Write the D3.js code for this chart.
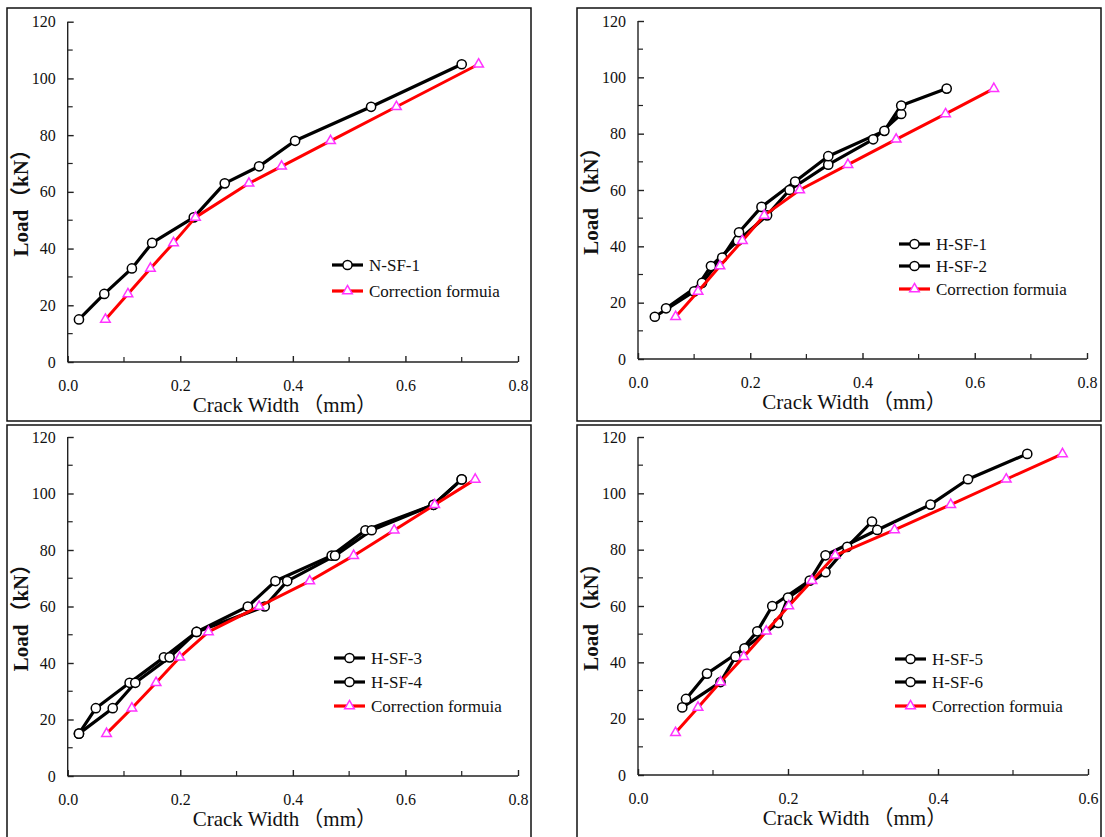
<!DOCTYPE html>
<html>
<head>
<meta charset="utf-8">
<script src="https://cdn.jsdelivr.net/npm/d3@7"></script>
<style>
  html, body { margin: 0; padding: 0; background: #fff; }
  svg { display: block; }
  svg text { font-family: "Liberation Serif", "Times New Roman", Tinos, "DejaVu Serif", "Noto Serif", serif, "Noto Sans CJK SC"; fill: #111; }
</style>
</head>
<body>
<svg id="chart" width="1105" height="837"></svg>
<script>
// ---------------- DATA ----------------
const yTickValues = [0, 20, 40, 60, 80, 100, 120];
const xTickValues08 = [0.0, 0.2, 0.4, 0.6, 0.8];
const xTickValues06 = [0.0, 0.2, 0.4, 0.6];
const xAxisTitleMain = "Crack Width";
const xAxisTitleUnit = "（mm）";
const yAxisTitleMain = "Load";
const yAxisTitleUnit = "（kN）";
const correctionName = "Correction formuia";

// Panel 1: N-SF-1
const nsf1Width = [0.02, 0.065, 0.114, 0.150, 0.224, 0.279, 0.340, 0.404, 0.539, 0.700];
const nsf1Load  = [15, 24, 33, 42, 51, 63, 69, 78, 90, 105];
const corr1Width = [0.067, 0.107, 0.147, 0.188, 0.227, 0.322, 0.380, 0.467, 0.584, 0.730];
const corr1Load  = [15, 24, 33, 42, 51, 63, 69, 78, 90, 105];

// Panel 2: H-SF-1, H-SF-2
const hsf1Width = [0.030, 0.100, 0.130, 0.178, 0.230, 0.270, 0.339, 0.419, 0.469];
const hsf1Load  = [15, 24, 33, 42, 51, 60, 69, 78, 87];
const hsf2Width = [0.050, 0.114, 0.150, 0.180, 0.220, 0.280, 0.339, 0.439, 0.469, 0.550];
const hsf2Load  = [18, 27, 36, 45, 54, 63, 72, 81, 90, 96];
const corr2Width = [0.067, 0.107, 0.146, 0.186, 0.225, 0.288, 0.374, 0.460, 0.548, 0.634];
const corr2Load  = [15, 24, 33, 42, 51, 60, 69, 78, 87, 96];

// Panel 3: H-SF-3, H-SF-4
const hsf3Width = [0.020, 0.050, 0.110, 0.171, 0.229, 0.320, 0.369, 0.469, 0.529, 0.650, 0.700];
const hsf3Load  = [15, 24, 33, 42, 51, 60, 69, 78, 87, 96, 105];
const hsf4Width = [0.020, 0.080, 0.120, 0.181, 0.229, 0.350, 0.390, 0.475, 0.540, 0.650, 0.700];
const hsf4Load  = [15, 24, 33, 42, 51, 60, 69, 78, 87, 96, 105];
const corr3Width = [0.069, 0.114, 0.157, 0.199, 0.250, 0.340, 0.430, 0.508, 0.580, 0.652, 0.724];
const corr3Load  = [15, 24, 33, 42, 51, 60, 69, 78, 87, 96, 105];

// Panel 4: H-SF-5, H-SF-6
const hsf5Width = [0.059, 0.110, 0.130, 0.159, 0.179, 0.229, 0.250, 0.319, 0.390, 0.440, 0.519];
const hsf5Load  = [24, 33, 42, 51, 60, 69, 78, 87, 96, 105, 114];
const hsf6Width = [0.064, 0.092, 0.142, 0.187, 0.200, 0.250, 0.279, 0.312];
const hsf6Load  = [27, 36, 45, 54, 63, 72, 81, 90];
const corr4Width = [0.050, 0.080, 0.110, 0.141, 0.171, 0.201, 0.232, 0.263, 0.342, 0.417, 0.491, 0.566];
const corr4Load  = [15, 24, 33, 42, 51, 60, 69, 78, 87, 96, 105, 114];

const zip = (w, l) => w.map((d, i) => ({ x: d, y: l[i] }));

// ---------------- LAYOUT ----------------
const FONT = '"Liberation Serif", "Times New Roman", Tinos, "DejaVu Serif", "Noto Serif", serif, "Noto Sans CJK SC"';
const panels = [
  { border: [7, 8, 531, 421], plot: [67.7, 518, 21.7, 362], xMax: 0.8, xTicks: xTickValues08,
    legend: { x: 332, ys: [265, 291] },
    series: [{ name: "N-SF-1", data: zip(nsf1Width, nsf1Load) }],
    corr: zip(corr1Width, corr1Load) },
  { border: [577, 8, 1101, 421], plot: [638, 1087, 21, 359], xMax: 0.8, xTicks: xTickValues08,
    legend: { x: 899, ys: [244, 266, 289] },
    series: [{ name: "H-SF-1", data: zip(hsf1Width, hsf1Load) },
             { name: "H-SF-2", data: zip(hsf2Width, hsf2Load) }],
    corr: zip(corr2Width, corr2Load) },
  { border: [7, 425, 531, 842], plot: [67.7, 518, 437, 776], xMax: 0.8, xTicks: xTickValues08,
    legend: { x: 334, ys: [658, 682, 706] },
    series: [{ name: "H-SF-3", data: zip(hsf3Width, hsf3Load) },
             { name: "H-SF-4", data: zip(hsf4Width, hsf4Load) }],
    corr: zip(corr3Width, corr3Load) },
  { border: [577, 425, 1101, 842], plot: [638, 1088, 437, 775], xMax: 0.6, xTicks: xTickValues06,
    legend: { x: 895, ys: [659, 682, 706] },
    series: [{ name: "H-SF-5", data: zip(hsf5Width, hsf5Load) },
             { name: "H-SF-6", data: zip(hsf6Width, hsf6Load) }],
    corr: zip(corr4Width, corr4Load) }
];

const svg = d3.select("#chart");
const triangle = d3.symbol().type(d3.symbolTriangle).size(40);
const MAGENTA = "#ff33ff";

panels.forEach(p => {
  const [bx0, by0, bx1, by1] = p.border;
  svg.append("rect").attr("x", bx0).attr("y", by0).attr("width", bx1 - bx0).attr("height", by1 - by0)
    .attr("fill", "none").attr("stroke", "#111").attr("stroke-width", 1.5);

  const [pl, pr, pt, pb] = p.plot;
  const x = d3.scaleLinear().domain([0, p.xMax]).range([pl, pr]);
  const y = d3.scaleLinear().domain([0, 120]).range([pb, pt]);
  const g = svg.append("g").attr("font-family", FONT);

  // Y axis
  const yAx = g.append("g").attr("transform", `translate(${pl},0)`)
    .call(d3.axisLeft(y).tickValues(yTickValues).tickSize(-6).tickPadding(12).tickFormat(d3.format("d")));
  yAx.attr("font-family", FONT).attr("font-size", 16);
  yAx.select(".domain").attr("stroke", "#222").attr("stroke-width", 1.4).attr("d", `M0,${pt}V${pb}`);
  yAx.selectAll(".tick line").attr("stroke", "#222").attr("stroke-width", 1.4);
  yAx.selectAll(".tick text").style("font-family", FONT).style("font-size", "16px").attr("fill", "#111");
  d3.range(10, 120, 20).forEach(v => g.append("line").attr("x1", pl).attr("x2", pl + 5).attr("y1", y(v)).attr("y2", y(v))
    .attr("stroke", "#222").attr("stroke-width", 1.2));

  // X axis
  const xAx = g.append("g").attr("transform", `translate(0,${pb})`)
    .call(d3.axisBottom(x).tickValues(p.xTicks).tickSize(-6).tickPadding(18).tickFormat(d3.format(".1f")));
  xAx.attr("font-family", FONT).attr("font-size", 16);
  xAx.select(".domain").attr("stroke", "#222").attr("stroke-width", 1.4).attr("d", `M${pl},0H${pr}`);
  xAx.selectAll(".tick line").attr("stroke", "#222").attr("stroke-width", 1.4);
  xAx.selectAll(".tick text").style("font-family", FONT).style("font-size", "16px").attr("fill", "#111");
  d3.range(0.1, p.xMax, 0.2).forEach(v => g.append("line").attr("x1", x(v)).attr("x2", x(v))
    .attr("y1", pb).attr("y2", pb - 5).attr("stroke", "#222").attr("stroke-width", 1.2));

  // Axis titles
  const xt = g.append("text").attr("x", (pl + pr) / 2 - 8).attr("y", pb + 50).attr("text-anchor", "middle")
    .style("font-family", FONT).style("font-size", "21px");
  xt.append("tspan").text(xAxisTitleMain);
  xt.append("tspan").attr("dx", 3).text(xAxisTitleUnit);
  const yt = g.append("text").attr("transform", `translate(${pl - 40},${(pt + pb) / 2 + 6}) rotate(-90)`)
    .attr("text-anchor", "middle").style("font-family", FONT).style("font-size", "21px")
    .style("font-weight", "bold");
  yt.append("tspan").text(yAxisTitleMain);
  yt.append("tspan").attr("dx", 2).text(yAxisTitleUnit);

  const line = d3.line().x(d => x(d.x)).y(d => y(d.y));

  // Experimental series
  p.series.forEach(s => {
    g.append("path").datum(s.data).attr("d", line).attr("fill", "none")
      .attr("stroke", "#000").attr("stroke-width", 3.2).attr("stroke-linejoin", "round");
  });
  p.series.forEach(s => {
    g.selectAll(null).data(s.data).enter().append("circle")
      .attr("cx", d => x(d.x)).attr("cy", d => y(d.y)).attr("r", 4.6)
      .attr("fill", "#fff").attr("stroke", "#000").attr("stroke-width", 1.5);
  });

  // Correction formula
  g.append("path").datum(p.corr).attr("d", line).attr("fill", "none")
    .attr("stroke", "#ff0000").attr("stroke-width", 3).attr("stroke-linejoin", "round");
  g.selectAll(null).data(p.corr).enter().append("path")
    .attr("d", triangle).attr("transform", d => `translate(${x(d.x)},${y(d.y)})`)
    .attr("fill", "#fff").attr("stroke", MAGENTA).attr("stroke-width", 1.5);

  // Legend
  const items = p.series.map(s => ({ name: s.name, kind: "exp" })).concat([{ name: correctionName, kind: "corr" }]);
  items.forEach((it, i) => {
    const ly = p.legend.ys[i], lx = p.legend.x;
    g.append("line").attr("x1", lx).attr("x2", lx + 31).attr("y1", ly).attr("y2", ly)
      .attr("stroke", it.kind === "exp" ? "#000" : "#ff0000").attr("stroke-width", 3.2);
    if (it.kind === "exp") {
      g.append("circle").attr("cx", lx + 15.5).attr("cy", ly).attr("r", 4.6)
        .attr("fill", "#fff").attr("stroke", "#000").attr("stroke-width", 1.5);
    } else {
      g.append("path").attr("d", triangle).attr("transform", `translate(${lx + 15.5},${ly})`)
        .attr("fill", "#fff").attr("stroke", MAGENTA).attr("stroke-width", 1.5);
    }
    g.append("text").attr("x", lx + 37).attr("y", ly + 6)
      .style("font-family", FONT).style("font-size", "17px").text(it.name);
  });
});
</script>
</body>
</html>
